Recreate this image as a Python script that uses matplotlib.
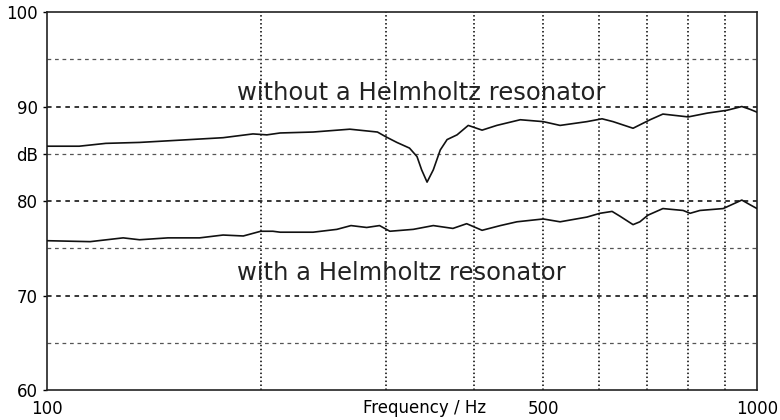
#Frequency response with and without a Helmholtz resonator
#

import matplotlib.pyplot as plt
import matplotlib.ticker as mticker

# upper curve: without resonator
f_up = [100, 111, 121, 135, 159, 177, 195, 204, 213, 237,
        267, 292, 300, 311, 324, 332, 337, 343, 350, 358,
        366, 378, 392, 410, 430, 464, 500, 528, 576, 605,
        627, 669, 707, 737, 800, 851, 907, 952, 978, 1000]
db_up = [85.8, 85.8, 86.1, 86.2, 86.5, 86.7, 87.1, 87.0, 87.2, 87.3,
         87.6, 87.3, 86.8, 86.2, 85.6, 84.7, 83.3, 82.0, 83.3, 85.4,
         86.5, 87.0, 88.0, 87.5, 88.0, 88.6, 88.4, 88.0, 88.4, 88.7,
         88.4, 87.7, 88.6, 89.2, 88.9, 89.3, 89.6, 90.0, 89.7, 89.4]

# lower curve: with resonator
f_lo = [100, 115, 128, 135, 148, 164, 177, 189, 200, 208,
        213, 237, 256, 268, 282, 294, 304, 328, 350, 373,
        390, 410, 435, 459, 500, 528, 576, 601, 625, 641,
        669, 684, 702, 737, 787, 805, 831, 896, 952, 978, 1000]
db_lo = [75.8, 75.7, 76.1, 75.9, 76.1, 76.1, 76.4, 76.3, 76.8, 76.8,
         76.7, 76.7, 77.0, 77.4, 77.2, 77.4, 76.8, 77.0, 77.4, 77.1,
         77.6, 76.9, 77.4, 77.8, 78.1, 77.8, 78.3, 78.7, 78.9, 78.4,
         77.5, 77.8, 78.5, 79.2, 79.0, 78.7, 79.0, 79.2, 80.1, 79.6, 79.2]

xticks = [100, 500, 1000]
yticks = [60, 70, 80, 85, 90, 100]
ylabels = ['60', '70', '80', 'dB', '90', '100']
vgrid = [200, 300, 400, 500, 600, 700, 800, 900]
hgrid_major = [70, 80, 90]
hgrid_minor = [65, 75, 85, 95]

fig = plt.figure(figsize=(7.8, 4.2), dpi=100)
ax = fig.add_axes([0.0603, 0.0714, 0.9102, 0.90])

ax.set_xscale('log')
ax.set_xlim(100, 1000)
ax.set_ylim(60, 100)

for f in vgrid:
    ax.axvline(f, color='k', linestyle=(0, (1, 1.6)), linewidth=1.1, zorder=1)
for y in hgrid_major:
    ax.axhline(y, color='k', linestyle=(0, (3, 3)), linewidth=1.1, zorder=1)
for y in hgrid_minor:
    ax.axhline(y, color='#555555', linestyle=(0, (3, 3)), linewidth=0.9, zorder=1)

ax.plot(f_up, db_up, color='#111111', linewidth=1.2, zorder=3)
ax.plot(f_lo, db_lo, color='#111111', linewidth=1.2, zorder=3)

ax.text(185, 90.7, 'without a Helmholtz resonator', fontsize=17.5, va='baseline', ha='left', color='#222222')
ax.text(185, 71.6, 'with a Helmholtz resonator', fontsize=17.5, va='baseline', ha='left', color='#222222')

ax.xaxis.set_major_locator(mticker.FixedLocator(xticks))
ax.xaxis.set_minor_locator(mticker.NullLocator())
ax.set_xticklabels([str(t) for t in xticks])
ax.set_yticks(yticks)
ax.set_yticklabels(ylabels)
ax.tick_params(axis='both', labelsize=12, length=3, width=1, direction='out', colors='k')
ax.tick_params(axis='x', length=0, pad=7)

ax.text(340, -0.025, 'Frequency / Hz', transform=ax.get_xaxis_transform(),
        fontsize=12, ha='center', va='top')

for s in ax.spines.values():
    s.set_linewidth(1.2)
    s.set_color('#222222')

plt.savefig('out.png')
